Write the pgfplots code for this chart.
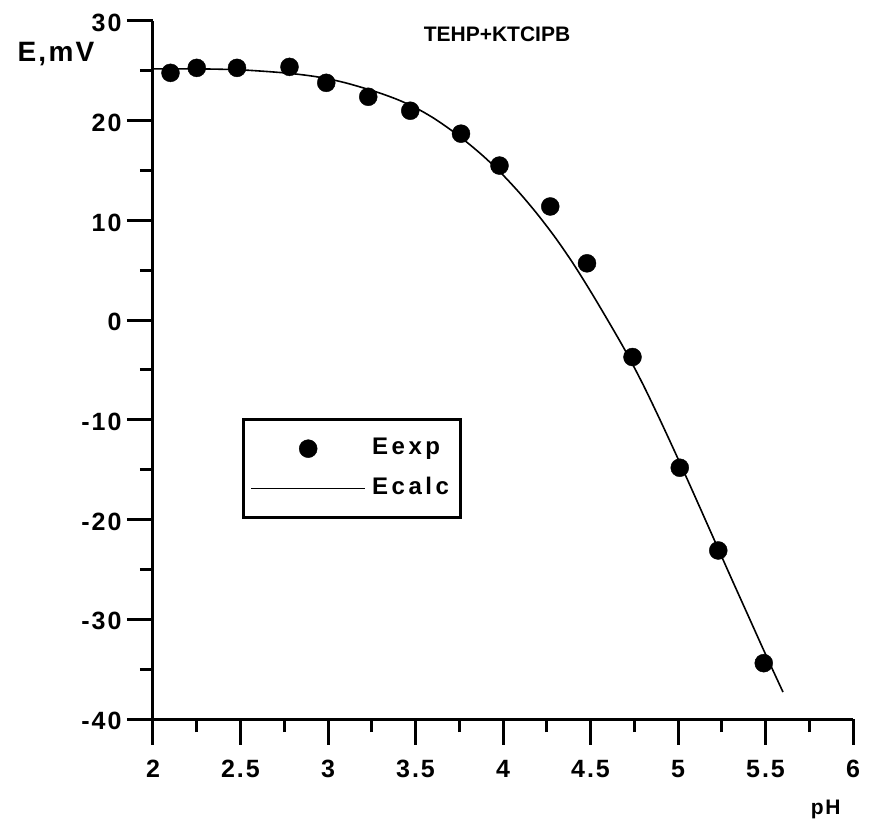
\documentclass[border=0pt]{standalone}
\usepackage{fontspec}
\setmainfont{Liberation Sans}
\newfontfamily\tickfont[LetterSpace=8]{Liberation Sans}
\newfontfamily\legfont[LetterSpace=15]{Liberation Sans}
\newcommand\legtext{\legfont\bfseries\fontsize{24}{28}\selectfont}
\usepackage{pgfplots}
\pgfplotsset{compat=1.18}
\pgfplotsset{
  dotlegend/.style={legend image code/.code={\draw[##1, line width=0.4pt] plot coordinates {(57pt,0pt)};}},
  linelegend/.style={legend image code/.code={\draw[##1] (0pt,0pt) -- (114pt,0pt);}},
}

\begin{document}
\begin{tikzpicture}
\useasboundingbox (-153pt,-105pt) rectangle (719pt,719pt);
\begin{axis}[
    at={(0pt,0pt)}, anchor=south west,
    scale only axis,
    width=700pt, height=698pt,
    xmin=2, xmax=6, ymin=-40, ymax=30,
    axis lines=left,
    axis line style={line width=3pt, -},
    xtick={2,2.5,...,6},
    ytick={-40,-30,...,30},
    minor tick num=1,
    tick align=outside,
    major tick length=26pt,
    minor tick length=13pt,
    every tick/.style={black, line width=3pt},
    /pgf/number format/assume math mode=true,
    ticklabel style={font=\tickfont\bfseries\fontsize{25}{28}\selectfont},
    xticklabel style={yshift=-12pt},
    yticklabel style={xshift=-2pt, yshift=-2pt},
    legend style={at={(rel axis cs:0.127,0.431)}, anchor=north west,
        draw=black, line width=3pt, inner xsep=7pt, inner ysep=13pt,
        nodes={inner xsep=4pt, inner ysep=4pt, text height=18pt, text depth=6pt},
        row sep=8pt, column sep=2pt},
    legend cell align=left,
    clip=false,
]
\addplot[only marks, mark=*, mark size=9pt, black, dotlegend]
  coordinates {(2.1,24.8)(2.25,25.3)(2.48,25.3)(2.78,25.4)(2.99,23.8)(3.23,22.4)
  (3.47,21.0)(3.76,18.7)(3.98,15.5)(4.27,11.4)(4.48,5.7)(4.74,-3.7)(5.01,-14.8)
  (5.23,-23.1)(5.49,-34.4)};
\addlegendentry{\legtext Eexp}
\addplot[black, line width=1.6pt, smooth, linelegend]
  coordinates {(2.0,25.2)(2.25,25.2)(2.5,25.1)(2.75,24.8)(2.9,24.5)(3.0,24.2)
  (3.1,23.8)(3.2,23.3)(3.3,22.75)(3.4,22.1)(3.5,21.3)(3.6,20.3)(3.7,19.1)
  (3.8,17.75)(3.9,16.25)(4.0,14.55)(4.1,12.65)(4.2,10.55)(4.3,8.25)(4.4,5.7)
  (4.5,2.9)(4.6,-0.05)(4.7,-3.1)(4.8,-6.45)(4.9,-10.1)(5.0,-13.9)(5.1,-17.8)
  (5.2,-21.75)(5.3,-25.7)(5.4,-29.6)(5.5,-33.5)(5.6,-37.3)};
\addlegendentry{\legtext Ecalc}
\node[anchor=base, font=\tickfont\bfseries\fontsize{28}{32}\selectfont]
  at (rel axis cs:-0.1386,0.9413) {E,mV};
\node[anchor=base, font=\bfseries\fontsize{21}{24}\selectfont]
  at (rel axis cs:0.4914,0.970) {TEHP+KTCIPB};
\node[anchor=base, font=\tickfont\bfseries\fontsize{21}{24}\selectfont]
  at (rel axis cs:0.961,-0.1375) {pH};
\end{axis}
\end{tikzpicture}
\end{document}
